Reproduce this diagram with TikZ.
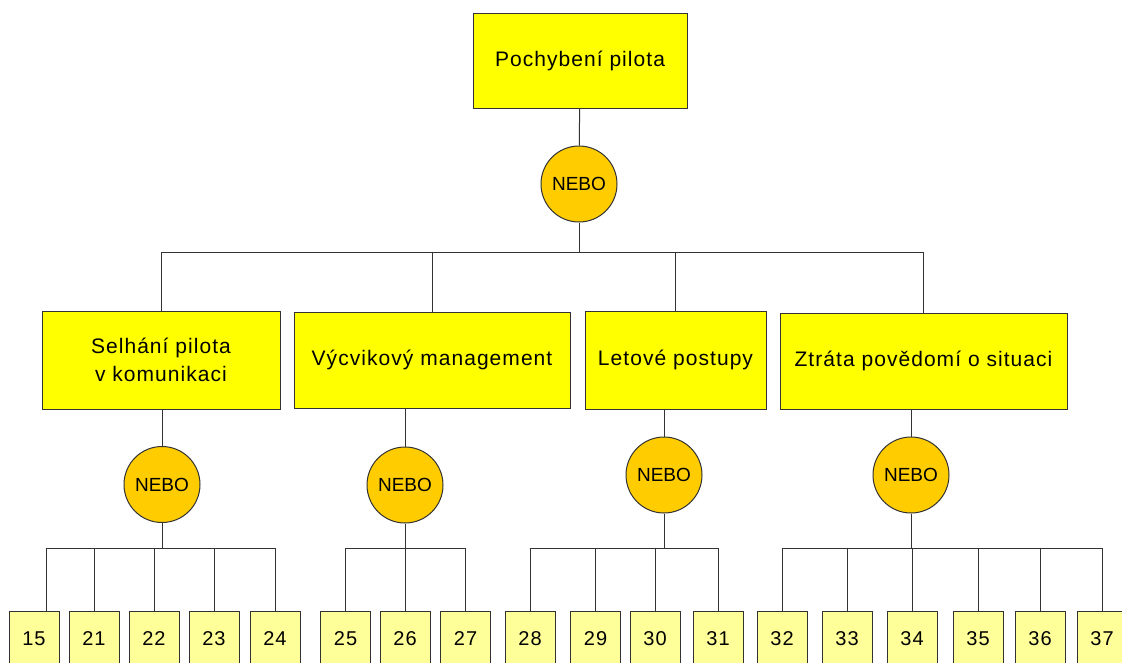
\documentclass[tikz,border=0pt]{standalone}
\usepackage{fontspec}
\setmainfont{Liberation Sans}
\newfontfamily\labfont{Liberation Sans}[LetterSpace=5]
\definecolor{linec}{HTML}{333333}
\definecolor{boxyel}{HTML}{FFFF00}
\definecolor{gatec}{HTML}{FFCC00}
\definecolor{leafyel}{HTML}{FFFF99}
\begin{document}
\begin{tikzpicture}[x=1pt,y=-1pt,
  conn/.style={draw=linec,line width=1pt},
  mainbox/.style={draw=linec,line width=1pt,fill=boxyel,inner sep=0pt,align=center,
    font=\labfont\fontsize{21}{28}\selectfont},
  gate/.style={circle,draw=linec,line width=1pt,fill=gatec,minimum size=76pt,inner sep=0pt,
    font=\fontsize{19}{22}\selectfont},
  leaf/.style={draw=linec,line width=1pt,fill=leafyel,minimum width=50pt,minimum height=54pt,
    inner sep=0pt,anchor=north,font=\labfont\fontsize{20}{24}\selectfont}]
\useasboundingbox (0,0) rectangle (1122,662);
% top event
\node[mainbox,minimum width=214pt,minimum height=95pt] (top) at (580,60.5) {Pochybení pilota};
\node[gate] (n0) at (579,184) {NEBO};
% level 2
\node[mainbox,minimum width=238pt,minimum height=98pt] (b1) at (161,360) {Selhání pilota\\ v komunikaci};
\node[mainbox,minimum width=276pt,minimum height=96pt] (b2) at (432,360) {Výcvikový management};
\node[mainbox,minimum width=181pt,minimum height=98pt] (b3) at (675.5,360) {Letové postupy};
\node[mainbox,minimum width=287pt,minimum height=96pt] (b4) at (923.5,361) {Ztráta povědomí o situaci};
% gates
\node[gate] (n1) at (162,484.5) {NEBO};
\node[gate] (n2) at (405,485) {NEBO};
\node[gate] (n3) at (664,475) {NEBO};
\node[gate] (n4) at (911,475) {NEBO};
% leaves
\foreach \lab/\xx in {15/34,21/94,22/154,23/214,24/275,25/345.5,26/405,27/465.5,
  28/530,29/595.5,30/655,31/718,32/782,33/847,34/912,35/978,36/1040,37/1102}
  \node[leaf] (l\lab) at (\xx,611) {\lab};
% bus coordinates
\coordinate (bus0) at (0,252);
\coordinate (bus1) at (0,548);
% top connectors
\draw[conn] (top) -- (n0);
\draw[conn] (n0.south) -- (n0.south |- bus0);
\foreach \c in {b1,b2,b3,b4}
  \draw[conn] (n0.south |- bus0) -| (\c.north);
% box to gate
\foreach \g/\c in {n1/b1,n2/b2,n3/b3,n4/b4}
  \draw[conn] (\g.north |- \c.south) -- (\g.north);
% gate buses
\foreach \g in {n1,n2,n3,n4}
  \draw[conn] (\g.south) -- (\g.south |- bus1);
\draw[conn] (n1.south |- bus1) -| ([xshift=12pt]l15.north);
\foreach \l in {21,22,23,24}
  \draw[conn] (n1.south |- bus1) -| (l\l.north);
\foreach \l in {25,26,27}
  \draw[conn] (n2.south |- bus1) -| (l\l.north);
\foreach \l in {28,29,30,31}
  \draw[conn] (n3.south |- bus1) -| (l\l.north);
\foreach \l in {32,33,34,35,36,37}
  \draw[conn] (n4.south |- bus1) -| (l\l.north);
\end{tikzpicture}
\end{document}
